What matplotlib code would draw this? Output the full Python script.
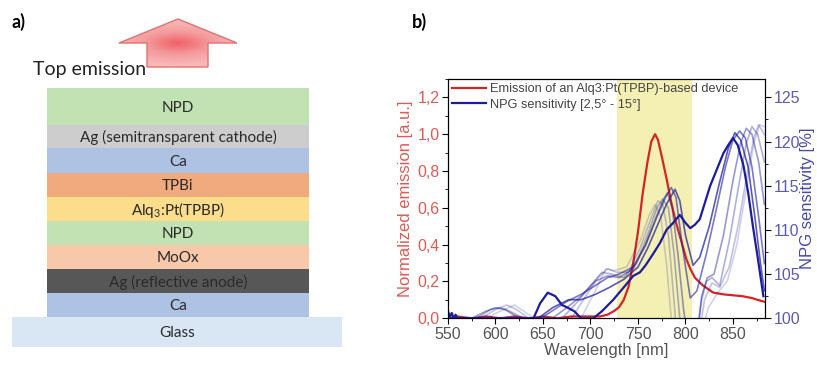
import numpy as np
import matplotlib
matplotlib.use('Agg')
from matplotlib import pyplot as plt
from matplotlib.patches import Rectangle, Polygon
from matplotlib.ticker import MultipleLocator, FuncFormatter
from matplotlib.colors import LinearSegmentedColormap

plt.rcParams['font.family'] = ['Liberation Sans', 'DejaVu Sans']
plt.rcParams['mathtext.default'] = 'regular'

# ---- panel a: device stack, top to bottom
layer_names = ['NPD', 'Ag (semitransparent cathode)', 'Ca', 'TPBi', 'Alq$_3$:Pt(TPBP)',
               'NPD', 'MoOx', 'Ag (reflective anode)', 'Ca']
layer_colors = ['#c3e2b4', '#cdcdcd', '#aec3e3', '#f0aa7d', '#fbdd8c',
                '#c3e2b4', '#f7c8aa', '#575757', '#aec3e3']
layer_heights = [37, 23, 25, 24, 24, 24, 24, 24, 24]
substrate_name = 'Glass'

# ---- panel b: emission spectrum (normalized)
em_wl = [550, 560, 575, 590, 605, 620, 635, 650, 665, 680, 695, 710, 718, 725, 730, 735,
         740, 745, 750, 755, 760, 764, 768, 771, 775, 780, 785, 790, 795, 801, 805, 810,
         818, 829, 840, 850, 860, 870, 876, 883]
em_val = [0.0, 0.01, 0.0, 0.01, 0.0, 0.01, 0.0, 0.01, 0.0, 0.01, 0.01, 0.01, 0.02, 0.04, 0.06, 0.10,
          0.17, 0.30, 0.47, 0.68, 0.85, 0.96, 1.0, 0.97, 0.88, 0.76, 0.63, 0.52, 0.43, 0.32, 0.27, 0.22,
          0.18, 0.14, 0.13, 0.125, 0.12, 0.11, 0.10, 0.09]

# NPG sensitivity [%], one curve per angle (darkest = first)
npg_wl_1 = [550, 552, 554, 556, 558, 560, 563, 640, 647, 655, 663, 670, 676, 683, 690, 703, 712,
            724, 735, 745, 752, 758, 766, 773, 780, 787, 794, 800, 805, 810, 815, 826, 840, 845,
            850, 855, 861, 866, 871, 876, 882]
npg_1 = [100.8, 100.2, 100.6, 100.0, 100.4, 100.0, 100.0, 100.0, 101.7, 102.9, 102.5, 101.5, 101.2,
         100.8, 100.0, 100.0, 100.8, 102.1, 103.5, 104.8, 105.2, 106.0, 107.3, 108.5, 110.0, 110.8,
         111.7, 110.8, 110.2, 110.6, 111.2, 115.0, 118.7, 119.6, 120.4, 119.6, 117.3, 114.2, 110.4,
         106.9, 102.5]
npg_wl_2 = [550, 645, 660, 677, 690, 705, 720, 735, 750, 760, 770, 780, 789, 794, 800, 808, 815,
            825, 835, 845, 852, 858, 866, 873, 879, 883]
npg_2 = [100, 100, 101.2, 102.1, 102.1, 102.7, 103.5, 104.4, 105.8, 107.9, 110.4, 112.9, 114.6,
         113.3, 109.4, 106.0, 106.9, 110.4, 115.0, 119.2, 121.0, 120.2, 117.1, 111.5, 106.2, 103.1]
npg_wl_3 = [550, 648, 662, 675, 690, 705, 718, 730, 745, 758, 770, 779, 785, 790, 796, 805, 812,
            822, 832, 842, 850, 857, 863, 870, 877, 883]
npg_3 = [100, 100, 101.0, 101.9, 102.7, 103.7, 104.6, 105.0, 105.8, 108.3, 111.5, 113.7, 114.8,
         113.7, 108.7, 102.3, 103.1, 107.3, 112.1, 117.1, 120.2, 121.2, 120.4, 117.1, 111.5, 106.2]
npg_wl_4 = [550, 575, 590, 600, 610, 625, 660, 675, 690, 705, 718, 730, 745, 758, 770, 777, 781,
            786, 792, 798, 802, 812, 817, 823, 830, 840, 850, 858, 864, 870, 877, 883]
npg_4 = [100, 100, 100.8, 101.2, 101.0, 100, 100, 101.2, 102.5, 104.2, 104.8, 104.6, 105.6, 108.3,
         111.7, 113.5, 114.2, 112.5, 107.3, 101.0, 97.9, 97.9, 102.5, 104.6, 105.0, 109.4, 115.6,
         119.8, 121.5, 120.8, 117.7, 112.9]
npg_wl_5 = [550, 580, 595, 605, 615, 630, 670, 685, 700, 712, 722, 735, 748, 760, 770, 776, 782,
            788, 794, 798, 812, 817, 822, 828, 836, 846, 856, 864, 870, 876, 883]
npg_5 = [100, 100, 101.0, 101.2, 100.8, 100, 100, 101.7, 103.7, 105.2, 105.0, 104.6, 106.2, 109.4,
         112.5, 113.5, 112.5, 107.3, 100.0, 97.9, 97.9, 102.1, 104.2, 104.6, 103.7, 108.7, 115.0,
         119.8, 121.7, 120.8, 117.7]
npg_wl_6 = [550, 585, 600, 612, 622, 635, 680, 695, 708, 718, 728, 740, 752, 762, 771, 776, 782,
            787, 791, 814, 820, 828, 836, 846, 856, 866, 872, 877, 883]
npg_6 = [100, 100, 101.0, 101.5, 101.0, 100, 100, 102.5, 104.6, 105.6, 105.2, 105.2, 107.9, 110.8,
         113.3, 112.9, 109.4, 103.1, 97.9, 97.9, 102.1, 104.0, 103.5, 105.8, 110.8, 117.1, 120.4,
         121.9, 120.8]
npg_wl_7 = [550, 590, 605, 620, 630, 640, 690, 705, 716, 725, 738, 752, 762, 768, 774, 780, 785,
            788, 816, 824, 834, 844, 854, 864, 872, 878, 883]
npg_7 = [100, 100, 100.8, 101.5, 100.8, 100, 100, 103.1, 105.6, 105.4, 105.8, 108.7, 111.7, 112.9,
         111.5, 106.2, 100.0, 97.9, 97.9, 101.2, 102.9, 104.2, 108.3, 114.6, 119.8, 121.9, 121.7]

npg_curves = [(npg_wl_1, npg_1), (npg_wl_2, npg_2), (npg_wl_3, npg_3), (npg_wl_4, npg_4),
              (npg_wl_5, npg_5), (npg_wl_6, npg_6), (npg_wl_7, npg_7)]
npg_alpha = [1.0, 0.72, 0.58, 0.45, 0.35, 0.27, 0.2]
band = (728, 807)

W, H = 817, 365
fig = plt.figure(figsize=(W / 100, H / 100), dpi=100)

# ---------------- panel a (pixel coordinates)
axa = fig.add_axes([0, 0, 0.45, 1])
axa.set_xlim(0, 0.45 * W)
axa.set_ylim(H, 0)
axa.axis('off')

lato = ['Lato', 'DejaVu Sans']
y = 88
for name, col, hgt in zip(layer_names, layer_colors, layer_heights):
    axa.add_patch(Rectangle((47, y), 262, hgt, facecolor=col, edgecolor='none'))
    axa.text(178, y + hgt / 2 + 1, name, ha='center', va='center', fontsize=11,
             color='#2a2a2a', family=lato)
    y += hgt
axa.add_patch(Rectangle((12, y), 330, 30, facecolor='#d9e6f3', edgecolor='none'))
axa.text(177, y + 16, substrate_name, ha='center', va='center', fontsize=11,
         color='#2a2a2a', family=lato)

arrow = Polygon([(147, 67), (147, 43), (119, 43), (178, 19), (237, 43), (208, 43), (208, 67)],
                closed=True, facecolor='none', edgecolor='#e07272', lw=1.0, zorder=3)
axa.add_patch(arrow)
gx, gy = np.meshgrid(np.linspace(-1, 1, 120), np.linspace(-1, 1, 100))
rr = np.sqrt((gx * 1.1) ** 2 + (gy * 1.3) ** 2)
cmap = LinearSegmentedColormap.from_list('arr', ['#f06066', '#f49a9c', '#f9b8b8'])
img = axa.imshow(rr, extent=(119, 237, 67, 19), cmap=cmap, vmin=0, vmax=1.2,
                 interpolation='bilinear', zorder=2)
img.set_clip_path(arrow)
axa.text(33, 70, 'Top emission', ha='left', va='center', fontsize=14, color='#222222',
         family=lato)
axa.text(12, 22, 'a)', ha='left', va='center', fontsize=13, fontweight='bold', family=lato)
axa.text(412, 22, 'b)', ha='left', va='center', fontsize=13, fontweight='bold', family=lato,
         clip_on=False)

# ---------------- panel b
red = '#d42525'
navy = '#1c1c9c'
ax = fig.add_axes([448 / W, (H - 318.3) / H, (765 - 448) / W, (318.3 - 79) / H])
ax.axvspan(*band, color='#f4f0b4', lw=0, zorder=0)
l_em, = ax.plot(em_wl, em_val, color=red, lw=1.6, zorder=3,
                label='Emission of an Alq3:Pt(TPBP)-based device')
ax.set_xlim(550, 883.7)
ax.set_ylim(0, 1.3)

ax2 = ax.twinx()
handles = [l_em]
for (wl, val), a in zip(npg_curves, npg_alpha):
    ln, = ax2.plot(wl, val, color=navy, lw=1.6 if a == 1.0 else 1.2, alpha=a)
    if a == 1.0:
        ln.set_label('NPG sensitivity [2,5\u00b0 - 15\u00b0]')
        handles.append(ln)
ax2.set_ylim(100, 100 + 1.3 * 20.83)

comma = FuncFormatter(lambda v, p: f'{v:.1f}'.replace('.', ','))
ax.yaxis.set_major_locator(MultipleLocator(0.2))
ax.yaxis.set_minor_locator(MultipleLocator(0.1))
ax.yaxis.set_major_formatter(comma)
ax.xaxis.set_major_locator(MultipleLocator(50))
ax.xaxis.set_minor_locator(MultipleLocator(25))
ax2.yaxis.set_major_locator(MultipleLocator(5))
ax2.yaxis.set_minor_locator(MultipleLocator(2.5))

ax.tick_params(axis='y', labelsize=11.5, labelcolor='#de5a55', length=4, pad=2)
ax.tick_params(axis='y', which='minor', length=2.5)
ax.tick_params(axis='x', labelsize=11.5, labelcolor='#555555', length=4, pad=2)
ax.tick_params(axis='x', which='minor', length=2.5)
ax2.tick_params(axis='y', labelsize=11.5, labelcolor='#5b5bb0', length=4, pad=2)
ax2.tick_params(axis='y', which='minor', length=2.5)

ax.set_xlabel('Wavelength [nm]', fontsize=12, color='#555555', labelpad=1)
ax.set_ylabel('Normalized emission [a.u.]', fontsize=12, color='#de5a55', labelpad=3)
ax2.set_ylabel('NPG sensitivity [%]', fontsize=12, color='#4848a8', labelpad=0)

leg = ax2.legend(handles=handles, loc='upper left', frameon=False, fontsize=9.2,
                 handlelength=2.6, handletextpad=0.3, borderaxespad=0.15, labelspacing=0.25,
                 borderpad=0.2)
for t in leg.get_texts():
    t.set_color('#444444')

fig.savefig('out.png', dpi=100, facecolor='white')
